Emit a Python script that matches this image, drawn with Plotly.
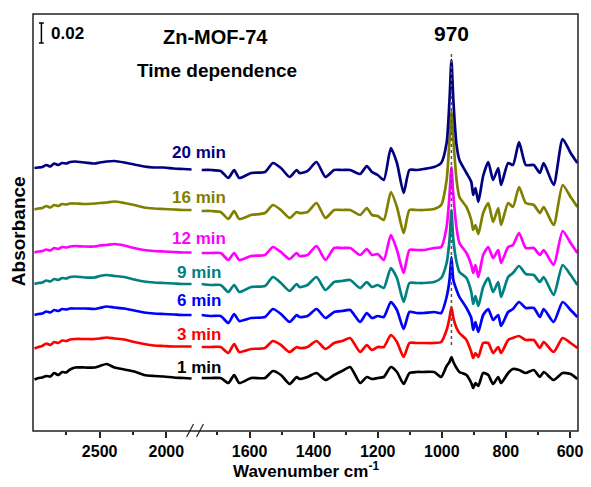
import plotly.graph_objects as go

# Wavenumber grids (cm-1) for the two panels of the broken axis
wn_high = [2989, 2959, 2930, 2900, 2870, 2841, 2811, 2781, 2752, 2722, 2685, 2611,
           2537, 2500, 2448, 2389, 2315, 2241, 2167, 2093, 2019, 1944, 1870, 1811]
wn_low = [1750, 1719, 1690, 1666, 1648, 1632, 1595, 1552, 1527, 1502,
          1475, 1453, 1444, 1419, 1391, 1363, 1336, 1311, 1286, 1255,
          1234, 1218, 1200, 1181, 1159, 1140, 1119, 1101, 1079, 1057,
          1024, 1002, 985, 976, 970, 964, 954, 945, 923, 908,
          902, 895, 886, 871, 855, 840, 824, 815, 793, 778,
          759, 738, 713, 694, 682, 651, 623, 598, 577]

# Absorbance in mA (spectra stacked with a vertical offset)
high_1 = [51.5, 53, 53.5, 55, 54.5, 58, 56, 59, 58.5, 61.5, 63.5, 63.5, 63.5, 65, 67, 63.5,
          61.5, 59.5, 56, 55, 54.5, 53.5, 53, 52.5]
high_3 = [82.5, 84, 85, 87.5, 86, 89, 88, 90.5, 90, 91.5, 92, 92, 92, 92.5, 93.5, 92.5,
          91.5, 89, 87, 85.5, 85, 84.5, 84.5, 84.5]
high_6 = [116, 117, 117.5, 119.5, 118.5, 121, 120, 122, 121.5, 122.5, 122.5, 122.5, 122,
          123, 124.5, 123.5, 122.5, 120.5, 118.5, 117.5, 117, 116.5, 116, 116]
high_9 = [147, 148, 148.5, 150.5, 149.5, 152, 151, 153, 152.5, 154, 154.5, 153.5, 153.5,
          155, 156, 155, 154, 151.5, 149.5, 148.5, 148, 147.5, 147, 147]
high_12 = [178.5, 179.5, 180, 181.5, 180.5, 183, 182, 184, 183.5, 184.5, 185, 184.5, 184.5,
           185.5, 186, 187, 185.5, 183, 181, 180, 179.5, 179, 178.5, 178.5]
high_16 = [221.5, 222.5, 223, 225, 223.5, 226, 225, 227, 226.5, 227.5, 227.5, 227, 227.5,
           228, 228.5, 229.5, 228, 226, 223.5, 222.5, 222, 221.5, 221, 221]
high_20 = [263, 263.5, 264, 266, 264.5, 267.5, 266, 268, 267.5, 269, 269.5, 268.5, 267.5,
           268.5, 269.5, 270, 268.5, 266.5, 264.5, 263.5, 263.5, 262.5, 262, 261.5]

low_1 = [53, 53, 53, 48, 56, 48, 53, 53, 60, 56, 47, 54, 52, 54, 58, 51, 56, 60, 64, 48,
         54, 52, 53, 54, 64, 59, 47, 58, 59, 59, 59, 54, 65, 69, 74, 69, 63, 59, 56, 48,
         43, 48, 45, 58, 56, 47, 54, 48, 58, 62, 61, 58, 61, 54, 59, 51, 58, 57, 52]
low_3 = [84, 84, 84, 78, 87, 79, 82, 83, 90, 86, 79, 84, 83, 84, 90, 82, 88, 90, 93, 79,
         86, 81, 84, 84, 96, 89, 74, 88, 88, 88, 88, 89, 101, 113, 124, 113, 103, 98, 91, 79,
         73, 78, 74, 88, 88, 78, 84, 78, 91, 93, 95, 91, 91, 83, 89, 79, 93, 88, 83]
low_6 = [116, 115, 115, 108, 117, 110, 113, 114, 122, 117, 109, 116, 114, 115, 122, 113,
         119, 120, 121, 109, 118, 113, 115, 114, 129, 121, 102, 119, 118, 118, 119, 118,
         134, 151, 174, 151, 141, 134, 123, 113, 101, 109, 99, 116, 122, 111, 116, 105,
         119, 122, 129, 123, 123, 114, 122, 109, 129, 121, 114]
low_9 = [147, 146, 146, 139, 146, 139, 144, 145, 154, 148, 140, 147, 144, 146, 154, 141,
         149, 150, 151, 143, 149, 144, 146, 143, 163, 153, 129, 148, 148, 148, 149, 153,
         168, 191, 221, 191, 169, 159, 153, 139, 127, 135, 125, 144, 153, 139, 149, 134,
         154, 158, 165, 157, 156, 149, 154, 136, 166, 156, 146]
low_12 = [178, 178, 178, 171, 178, 171, 175, 176, 184, 179, 172, 178, 175, 176, 185, 171,
          183, 183, 183, 176, 182, 176, 177, 171, 196, 181, 158, 181, 181, 181, 183, 184,
          204, 236, 264, 236, 203, 188, 178, 166, 158, 166, 154, 176, 184, 173, 181, 168,
          184, 186, 198, 183, 183, 176, 181, 166, 200, 188, 178]
low_16 = [220, 220, 219, 212, 220, 212, 216, 218, 226, 221, 213, 219, 218, 219, 228, 213,
          221, 221, 221, 216, 223, 216, 215, 211, 239, 224, 198, 221, 221, 221, 222, 226,
          251, 291, 319, 291, 251, 234, 224, 211, 201, 206, 197, 218, 228, 209, 223, 206,
          228, 224, 244, 228, 226, 218, 224, 206, 246, 234, 224]
low_20 = [261, 261, 260, 253, 261, 253, 258, 259, 268, 263, 254, 261, 258, 260, 269, 254,
          261, 261, 261, 257, 265, 259, 256, 251, 283, 268, 238, 261, 261, 262, 264, 268,
          288, 331, 371, 331, 286, 271, 258, 249, 236, 243, 229, 255, 269, 251, 263, 246,
          268, 266, 289, 266, 266, 258, 268, 246, 292, 278, 268]

labels = ["1 min", "3 min", "6 min", "9 min", "12 min", "16 min", "20 min"]
colors = ["#000000", "#FF0000", "#0000FF", "#008080", "#FF00FF", "#808000", "#000080"]
label_y = [64, 97, 131, 159, 193, 234, 279]
highs = [high_1, high_3, high_6, high_9, high_12, high_16, high_20]
lows = [low_1, low_3, low_6, low_9, low_12, low_16, low_20]

peak_wn = 970
peak_line_y = [86, 379]
scale_bar = 20  # mA, i.e. 0.02 absorbance

FONT = "Liberation Sans, Arial, sans-serif"


def bold(size, color="black"):
    return dict(family=FONT, size=size, color=color, weight="bold")


def px_x(p):
    # horizontal pixel inside the 550 px plot area -> paper fraction
    return (p - 33) / 550


def px_y(p):
    # vertical pixel -> paper fraction (plot area spans 14..431)
    return (431 - p) / 417


fig = go.Figure()
for name, col, hi, lo in zip(labels, colors, highs, lows):
    fig.add_trace(go.Scatter(x=wn_high, y=hi, xaxis="x", yaxis="y", mode="lines",
                             line=dict(color=col, width=2.7, shape="spline", smoothing=0.6),
                             name=name, showlegend=False))
    fig.add_trace(go.Scatter(x=wn_low, y=lo, xaxis="x2", yaxis="y", mode="lines",
                             line=dict(color=col, width=2.7, shape="spline", smoothing=0.6),
                             name=name, showlegend=False))

# dotted marker through the 970 cm-1 band
fig.add_trace(go.Scatter(x=[peak_wn, peak_wn], y=peak_line_y, xaxis="x2", yaxis="y",
                         mode="lines", line=dict(color="#555555", width=1.5, dash="dot"),
                         showlegend=False))

common_x = dict(showgrid=False, zeroline=False, showline=False, ticks="outside",
                ticklen=6, tickwidth=1.5, tickcolor="#222", tickfont=bold(16), anchor="y")

fig.update_layout(
    width=591, height=487,
    margin=dict(l=33, r=8, t=14, b=56),
    paper_bgcolor="white", plot_bgcolor="white",
    xaxis=dict(domain=[0, 0.2936], range=[3000, 1800], tickvals=[2500, 2000],
               minor=dict(tickvals=[2750, 2250], ticks="outside", ticklen=3,
                          tickwidth=1.5, tickcolor="#222"), **common_x),
    xaxis2=dict(domain=[0.3091, 1], range=[1750, 575],
                tickvals=[1600, 1400, 1200, 1000, 800, 600],
                minor=dict(tickvals=[1700, 1500, 1300, 1100, 900, 700], ticks="outside",
                           ticklen=3, tickwidth=1.5, tickcolor="#222"), **common_x),
    yaxis=dict(range=[0, 417], showticklabels=False, showgrid=False, zeroline=False,
               showline=False, ticks=""),
)

shapes = [
    dict(type="rect", xref="paper", yref="paper", x0=0, x1=1, y0=0, y1=1,
         line=dict(color="#222", width=1.5)),
    # axis-break slashes
    dict(type="line", xref="paper", yref="paper", x0=px_x(188), x1=px_x(195),
         y0=px_y(437), y1=px_y(424), line=dict(color="#222", width=1.2)),
    dict(type="line", xref="paper", yref="paper", x0=px_x(198), x1=px_x(205),
         y0=px_y(437), y1=px_y(424), line=dict(color="#222", width=1.2)),
    # 0.02 scale bar
    dict(type="line", xref="x", yref="y", x0=2937, x1=2937, y0=388, y1=388 + scale_bar,
         line=dict(color="black", width=1.5)),
    dict(type="line", xref="x", yref="y", x0=2955, x1=2919, y0=388, y1=388,
         line=dict(color="black", width=1.5)),
    dict(type="line", xref="x", yref="y", x0=2955, x1=2919, y0=388 + scale_bar,
         y1=388 + scale_bar, line=dict(color="black", width=1.5)),
]
fig.update_layout(shapes=shapes)

centered = dict(showarrow=False, xanchor="center", yanchor="middle")
ann = []
for name, col, ly in zip(labels, colors, label_y):
    ann.append(dict(text=name, x=px_x(201), xref="paper", y=ly, yref="y",
                    font=bold(17, col), **centered))
ann += [
    dict(text="0.02", x=px_x(49), y=398, xref="paper", yref="y", xanchor="left",
         yanchor="middle", showarrow=False, font=bold(17)),
    dict(text="Zn-MOF-74", x=px_x(217), y=px_y(37), xref="paper", yref="paper",
         font=bold(20), **centered),
    dict(text="Time dependence", x=px_x(219), y=px_y(70), xref="paper", yref="paper",
         font=bold(19), **centered),
    dict(text="970", x=peak_wn, xref="x2", y=px_y(33), yref="paper",
         font=bold(21), **centered),
    dict(text="Absorbance", x=px_x(18), y=px_y(231), xref="paper", yref="paper",
         textangle=-90, font=bold(19), **centered),
    dict(text="Wavenumber cm<sup>-1</sup>", x=px_x(309), y=px_y(470), xref="paper",
         yref="paper", font=bold(17), **centered),
]
fig.update_layout(annotations=ann)

fig.write_html("out.html")
